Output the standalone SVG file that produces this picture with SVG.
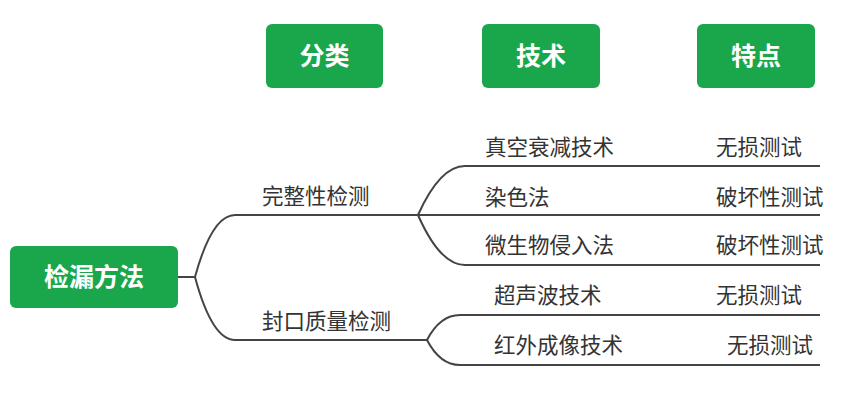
<svg xmlns="http://www.w3.org/2000/svg" width="866" height="409" viewBox="0 0 866 409">
<style>
.box{fill:#1aa74b}
.bt{font-family:"Noto Sans CJK SC",sans-serif;font-size:25px;font-weight:bold;fill:#fff;text-anchor:middle}
.t{font-family:"Noto Sans CJK SC",sans-serif;font-size:21.5px;fill:#333}
.c{fill:none;stroke:#444;stroke-width:2}
</style>
<rect width="866" height="409" fill="#fff"/>
<g id="h1"><rect class="box" x="266" y="24" width="117" height="64" rx="6"/><text class="bt" x="324.5" y="65">分类</text></g>
<g id="h2"><rect class="box" x="482" y="24" width="118" height="64" rx="6"/><text class="bt" x="541" y="65">技术</text></g>
<g id="h3"><rect class="box" x="697" y="24" width="118" height="64" rx="6"/><text class="bt" x="756" y="65">特点</text></g>
<g id="root"><rect class="box" x="10" y="246" width="168" height="62" rx="6"/><text class="bt" x="94" y="286">检漏方法</text></g>
<g id="connectors">
<path class="c" d="M178 277 H195 Q212 215 235 215 H418"/>
<path class="c" d="M195 277 Q212 340 235 340 H427"/>
<path class="c" d="M418 215 Q440 166 465 166 H820"/>
<path class="c" d="M418 215 H820"/>
<path class="c" d="M418 215 Q440 265 465 265 H820"/>
<path class="c" d="M427 340 Q440 315 460 315 H820"/>
<path class="c" d="M427 340 Q440 365 460 365 H820"/>
</g>
<g id="n1"><text class="t" x="262" y="204">完整性检测</text></g>
<g id="n2"><text class="t" x="262" y="329">封口质量检测</text></g>
<g id="t1"><text class="t" x="485" y="155">真空衰减技术</text><text class="t" x="716" y="155">无损测试</text></g>
<g id="t2"><text class="t" x="485" y="205">染色法</text><text class="t" x="716" y="205">破坏性测试</text></g>
<g id="t3"><text class="t" x="485" y="253">微生物侵入法</text><text class="t" x="716" y="253">破坏性测试</text></g>
<g id="t4"><text class="t" x="494" y="303">超声波技术</text><text class="t" x="716" y="303">无损测试</text></g>
<g id="t5"><text class="t" x="494" y="353">红外成像技术</text><text class="t" x="727" y="353">无损测试</text></g>
</svg>
